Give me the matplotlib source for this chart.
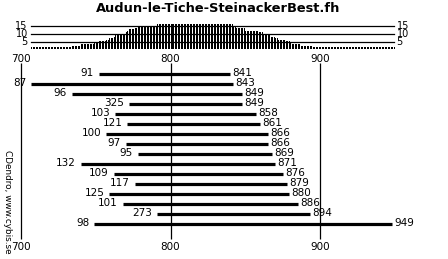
# Dendro bar chart: sample spans with a sample-depth histogram on top

import matplotlib
matplotlib.use('Agg')
import matplotlib.pyplot as plt
import numpy as np

title = 'Audun-le-Tiche-SteinackerBest.fh'
credit = 'CDendro, www.cybis.se'

# one row per sample: left label, first year, last year
left_labels = [91, 87, 96, 325, 103, 121, 100, 97, 95, 132, 109, 117, 125, 101, 273, 98]
starts = [752, 707, 734, 772, 763, 771, 757, 770, 778, 740, 762, 776, 759, 768, 791, 749]
ends = [841, 843, 849, 849, 858, 861, 866, 866, 869, 871, 876, 879, 880, 886, 894, 949]
decades = [700, 800, 900]
depth_ticks = [5, 10, 15]

W, H = 448, 259
px_per_year = 1.498
x0 = 700 - 20.7 / px_per_year
x1 = x0 + W / px_per_year

fig = plt.figure(figsize=(W / 100, H / 100), dpi=100)
plt.rcParams['font.family'] = ['DejaVu Sans']

# main axes, y in pixel rows
ax = fig.add_axes([0, 0, 1, 1])
ax.set_xlim(x0, x1)
ax.set_ylim(H, 0)
ax.axis('off')

# decade lines and labels
for d in decades:
    ax.plot([d, d], [63, 239], color='black', lw=0.9, solid_capstyle='butt')
    ax.text(d, 58.5, str(d), ha='center', va='center', fontsize=7.5)
    ax.text(d, 247, str(d), ha='center', va='center', fontsize=7.5)

# sample bars
for i, (lab, s, e) in enumerate(zip(left_labels, starts, ends)):
    y = 74.3 + 10 * i
    ax.plot([s, e - 1], [y, y], color='black', lw=2.3, solid_capstyle='butt')
    ax.annotate(str(lab), (s, y - 1), xytext=(-3.5, 0), textcoords='offset points',
                ha='right', va='center', fontsize=7.5)
    ax.annotate(str(e), (e, y - 1), xytext=(0.5, 0), textcoords='offset points',
                ha='left', va='center', fontsize=7.5)

ax.text(218.5 / W, 1 - 8.5 / H, title, transform=ax.transAxes, ha='center', va='center',
        fontsize=9.4, fontweight='bold')
ax.text(7 / W, 1 - 201.5 / H, credit, transform=ax.transAxes, ha='center', va='center',
        rotation=-90, fontsize=6.4)

# sample depth histogram
years = np.arange(min(starts), max(ends) + 1)
depth = np.array([sum(1 for s, e in zip(starts, ends) if s <= y <= e) for y in years])

unit = 1.53
hb = 49.4
ax2 = fig.add_axes([0, 1 - hb / H, 1, 18 * unit / H])
ax2.set_xlim(x0, x1)
ax2.set_ylim(0, 18)
ax2.axis('off')
ax2.vlines(years, -0.2, depth + 0.3, color='black', lw=0.7, antialiased=False)
for t in depth_ticks:
    ax2.plot([years[0], years[-1]], [t, t], color='black', lw=0.9)
    ax2.annotate(str(t), (years[0], t), xytext=(-2.5, 0), textcoords='offset points',
                 ha='right', va='center', fontsize=7)
    ax2.annotate(str(t), (years[-1], t), xytext=(2, 0), textcoords='offset points',
                 ha='left', va='center', fontsize=7)

fig.savefig('out.png', dpi=100)
